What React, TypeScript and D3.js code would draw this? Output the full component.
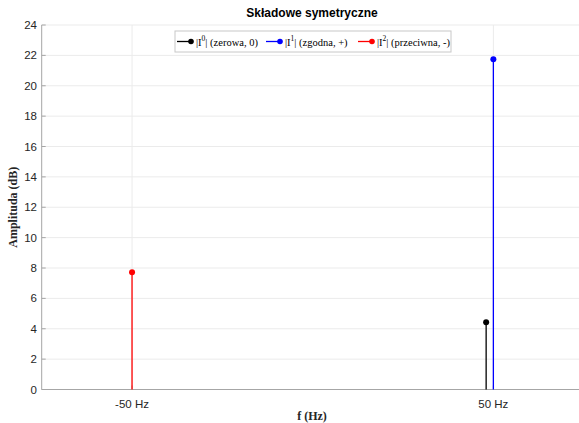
import React from "react";
import * as d3 from "d3";

// Symmetrical components of the current spectrum
const componentNames = ["0", "1", "2"];
const componentLabels = ["(zerowa, 0)", "(zgodna, +)", "(przeciwna, -)"];
const componentFreqs = [48, 50, -50]; // zero-sequence stem nudged left of 50 Hz
const componentAmps = [4.42, 21.74, 7.72];
const componentColors = ["#000000", "#0000ff", "#ff0000"];

const xTickValues = [-50, 50];
const xTickLabels = ["-50 Hz", "50 Hz"];
const yTickValues = d3.range(0, 25, 2);

const W = 579;
const H = 423;
const left = 41.7;
const right = 583.7;
const top = 25;
const bottom = 389.5;

export default function App() {
  const x = d3.scaleLinear().domain([-75, 75]).range([left, right]);
  const y = d3.scaleLinear().domain([0, 24]).range([bottom, top]);
  const gridColor = "#ebebeb";
  const axisColor = "#a6a6a6";
  const tickText = "#262626";

  // legend layout (x offsets of each entry)
  const legendEntryX = [177, 266, 358];
  const legendTextX = [196, 285, 377];
  const legendY = 41.5;

  return (
    <div style={{ position: "absolute", left: 0, top: 0 }}>
      <svg width={W} height={H} style={{ display: "block", background: "#fff" }}>
        {/* grid */}
        {yTickValues.map((v) => (
          <line key={"gy" + v} x1={left} x2={W} y1={y(v)} y2={y(v)} stroke={gridColor} strokeWidth={1} />
        ))}
        {xTickValues.map((v) => (
          <line key={"gx" + v} x1={x(v)} x2={x(v)} y1={top} y2={bottom} stroke={gridColor} strokeWidth={1} />
        ))}

        {/* axes */}
        <line x1={left} x2={left} y1={top} y2={bottom} stroke={axisColor} strokeWidth={1} />
        <line x1={left} x2={W} y1={bottom} y2={bottom} stroke={axisColor} strokeWidth={1} />
        {yTickValues.map((v) => (
          <g key={"ty" + v}>
            <line x1={left} x2={left + 4} y1={y(v)} y2={y(v)} stroke={axisColor} />
            <text
              x={37}
              y={y(v)}
              dy="0.35em"
              textAnchor="end"
              fontFamily="Liberation Sans, Arial, sans-serif"
              fontSize={11.5}
              fill={tickText}
            >
              {v}
            </text>
          </g>
        ))}
        {xTickValues.map((v, i) => (
          <g key={"tx" + v}>
            <line x1={x(v)} x2={x(v)} y1={bottom} y2={bottom - 4} stroke={axisColor} />
            <text
              x={x(v)}
              y={407.5}
              textAnchor="middle"
              fontFamily="Liberation Sans, Arial, sans-serif"
              fontSize={11.5}
              fill={tickText}
            >
              {xTickLabels[i]}
            </text>
          </g>
        ))}

        {/* stems */}
        {componentAmps.map((a, i) => (
          <g key={"s" + i}>
            <line
              x1={x(componentFreqs[i])}
              x2={x(componentFreqs[i])}
              y1={y(0)}
              y2={y(a)}
              stroke={componentColors[i]}
              strokeWidth={1.3}
            />
            <circle cx={x(componentFreqs[i])} cy={y(a)} r={3} fill={componentColors[i]} />
          </g>
        ))}

        {/* title */}
        <text
          x={312}
          y={17}
          textAnchor="middle"
          fontFamily="Liberation Sans, Arial, sans-serif"
          fontWeight="bold"
          fontSize={12}
          fill="#000"
        >
          Składowe symetryczne
        </text>

        {/* legend */}
        <rect x={175} y={31} width={276} height={21} fill="#fff" stroke="#c8c8c8" strokeWidth={1} />
        {componentNames.map((n, i) => (
          <g key={"lg" + i}>
            <line
              x1={legendEntryX[i]}
              x2={legendEntryX[i] + 14}
              y1={legendY}
              y2={legendY}
              stroke={componentColors[i]}
              strokeWidth={1.3}
            />
            <circle cx={legendEntryX[i] + 14} cy={legendY} r={2.8} fill={componentColors[i]} />
            <text
              x={legendTextX[i]}
              y={45.5}
              fontFamily="Liberation Serif, Times New Roman, serif"
              fontSize={10.5}
              fill="#000"
            >
              {"|I"}
              <tspan fontSize={7.5} dy={-4.5}>
                {n}
              </tspan>
              <tspan dy={4.5}>{"| " + componentLabels[i]}</tspan>
            </text>
          </g>
        ))}

        {/* axis labels */}
        <text
          transform={`translate(17,${(top + bottom) / 2}) rotate(-90)`}
          textAnchor="middle"
          fontFamily="Liberation Serif, Times New Roman, serif"
          fontWeight="bold"
          fontSize={12}
          fill="#262626"
        >
          Amplituda (dB)
        </text>
        <text
          x={312}
          y={420}
          textAnchor="middle"
          fontFamily="Liberation Serif, Times New Roman, serif"
          fontWeight="bold"
          fontSize={12}
          fill="#262626"
        >
          f (Hz)
        </text>
      </svg>
    </div>
  );
}
